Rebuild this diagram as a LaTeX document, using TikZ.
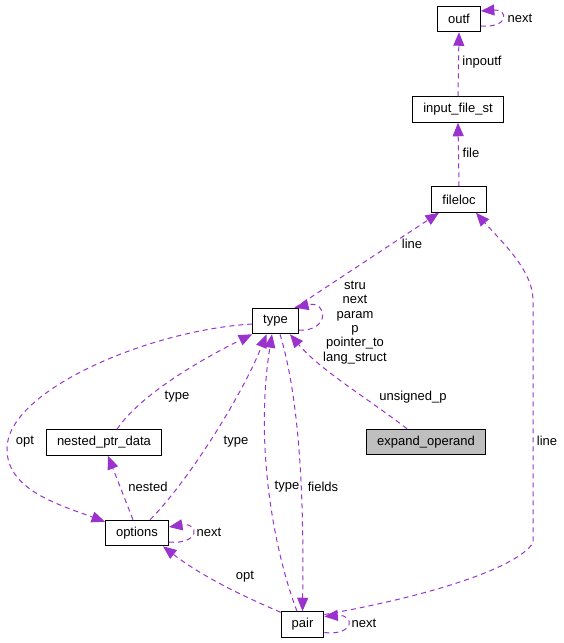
\documentclass[tikz,border=0pt]{standalone}
\usepackage{fontspec}
\setmainfont{Liberation Sans}
\usetikzlibrary{%
  arrows.meta,%
  positioning%
}
\definecolor{edgepurple}{HTML}{9A32CD}

\begin{document}
\begin{tikzpicture}[x=1pt,y=-1pt,
    every node/.style={font=\fontsize{13}{14.4}\selectfont},
    Class/.style={draw=black, line width=1pt, inner xsep=10.5pt, inner ysep=0pt,
      minimum height=25.5pt},
    Leaf/.style={Class, fill=black!25},
    Ref/.style={draw=edgepurple, line width=1pt, dash pattern=on 5pt off 4pt,
      -{Triangle[length=13.5pt,width=11pt,fill=edgepurple]}},
    Lbl/.style={inner sep=0pt, align=center}]
  \useasboundingbox (0,0) rectangle (564,643);
  % classes
  \node [Class] (outf) at (459,19) {outf};
  \node [Class] (inputfile) at (458,109.5) {input\_file\_st};
  \node [Class] (fileloc) at (459,199.5) {fileloc};
  \node [Class] (type) at (275.5,321) {type};
  \node [Class] (nestedptr) at (104,442.5) {nested\_ptr\_data};
  \node [Leaf] (expandop) at (426,442) {expand\_operand};
  \node [Class] (options) at (137,533) {options};
  \node [Class] (pair) at (302.5,624.5) {pair};
  % references
  \draw [Ref] ([yshift=-7pt]outf.east) .. controls (510,28) and (508,9) .. ([yshift=8pt]outf.east);
  \draw [Ref] (inputfile.north) -- (outf.south);
  \draw [Ref] (fileloc.north) -- (inputfile.south);
  \draw [Ref] ([xshift=19.5pt]type.north) -- ([xshift=-20pt]fileloc.south);
  \draw [Ref] ([yshift=10pt]pair.east) .. controls (420,598) and (515,570) .. (533,543)
    -- (533,300) .. controls (533,270) and (500,240) .. ([xshift=17pt]fileloc.south);
  \draw [Ref] ([yshift=-9pt]type.east) .. controls (330,332) and (328,300) .. ([xshift=19.5pt]type.north);
  \draw [Ref] ([xshift=-19pt]expandop.north) .. controls (370,400) and (320,370) .. ([xshift=14.5pt]type.south);
  \draw [Ref] ([xshift=13pt]nestedptr.north) .. controls (140,395) and (200,360) .. (type.south west);
  \draw [Ref] ([xshift=13pt]options.north) .. controls (185,485) and (240,400) .. ([xshift=-9pt]type.south);
  \draw [Ref] ([xshift=-5.5pt]pair.north) .. controls (272,545) and (255,440) .. ([xshift=-3.5pt]type.south);
  \draw [Ref] ([xshift=4.5pt]type.south) .. controls (300,400) and (304,500) .. (pair.north);
  \draw [Ref] ([yshift=-3pt]type.west) .. controls (150,330) and (8,390) .. (7,448)
    .. controls (6,490) and (60,505) .. ([yshift=-2pt]options.north west);
  \draw [Ref] ([xshift=-4pt]options.north) -- ([xshift=4pt]nestedptr.south);
  \draw [Ref] ([yshift=-9pt]options.east) .. controls (200,545) and (200,522) .. ([yshift=6pt]options.east);
  \draw [Ref] ([yshift=-1pt]pair.north west) .. controls (240,595) and (200,575) .. ([xshift=-6pt]options.south east);
  \draw [Ref] ([yshift=-8pt]pair.east) .. controls (355,636) and (355,614) .. ([yshift=8pt]pair.east);
  % labels
  \node [Lbl] (lOutfNext) at (520,18) {next};
  \node [Lbl] (lInpoutf) at (482,62) {inpoutf};
  \node [Lbl] (lFile) at (471,153) {file};
  \node [Lbl] (lLineType) at (412,244) {line};
  \node [Lbl] (lTypeLoop) at (355,322.5) {stru\\next\\param\\p\\pointer\_to\\lang\_struct};
  \node [Lbl] (lUnsigned) at (413,397) {unsigned\_p};
  \node [Lbl] (lTypeNested) at (177,397) {type};
  \node [Lbl] (lOptType) at (25,442) {opt};
  \node [Lbl] (lTypeOptions) at (236,442) {type};
  \node [Lbl] (lNested) at (148,487) {nested};
  \node [Lbl] (lTypePair) at (287,487) {type};
  \node [Lbl] (lFields) at (323,487) {fields};
  \node [Lbl] (lOptionsNext) at (209,532) {next};
  \node [Lbl] (lOptPair) at (245,577) {opt};
  \node [Lbl] (lLinePair) at (547,441) {line};
  \node [Lbl] (lPairNext) at (364,623) {next};
\end{tikzpicture}
\end{document}
